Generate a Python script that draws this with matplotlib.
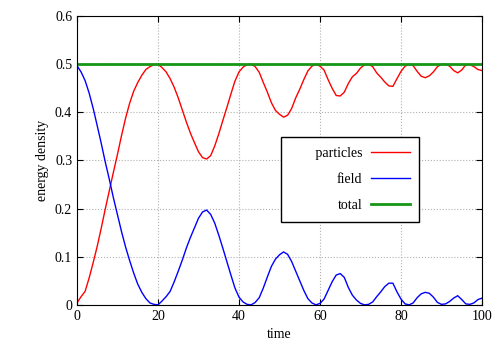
import matplotlib
matplotlib.use("Agg")
import matplotlib.pyplot as plt

plt.rcParams["font.family"] = ["Liberation Serif", "DejaVu Serif"]

time = list(range(0, 101))
field = [0.497, 0.484, 0.466, 0.440, 0.408, 0.372, 0.335, 0.296, 0.260, 0.222,
         0.187, 0.152, 0.120, 0.092, 0.066, 0.043, 0.026, 0.013, 0.004, 0.001,
         0.000, 0.008, 0.017, 0.028, 0.048, 0.070, 0.093, 0.118, 0.140, 0.160,
         0.180, 0.193, 0.197, 0.188, 0.170, 0.145, 0.118, 0.090, 0.062, 0.035,
         0.016, 0.006, 0.001, 0.000, 0.005, 0.015, 0.035, 0.058, 0.080, 0.095,
         0.104, 0.110, 0.105, 0.090, 0.070, 0.050, 0.030, 0.013, 0.004, 0.000,
         0.003, 0.012, 0.030, 0.048, 0.062, 0.065, 0.057, 0.036, 0.020, 0.010,
         0.003, 0.000, 0.001, 0.006, 0.017, 0.027, 0.038, 0.045, 0.045, 0.027,
         0.012, 0.002, 0.000, 0.004, 0.015, 0.023, 0.026, 0.024, 0.016, 0.005,
         0.001, 0.002, 0.007, 0.014, 0.019, 0.011, 0.002, 0.001, 0.004, 0.011,
         0.014]
particles = [0.004, 0.017, 0.028, 0.056, 0.088, 0.122, 0.160, 0.200, 0.238, 0.276,
             0.313, 0.352, 0.388, 0.419, 0.444, 0.462, 0.477, 0.489, 0.495, 0.499,
             0.500, 0.493, 0.484, 0.470, 0.452, 0.430, 0.405, 0.380, 0.357, 0.337,
             0.318, 0.306, 0.303, 0.310, 0.330, 0.355, 0.383, 0.410, 0.438, 0.465,
             0.484, 0.494, 0.499, 0.500, 0.495, 0.483, 0.462, 0.442, 0.420, 0.404,
             0.396, 0.390, 0.394, 0.408, 0.430, 0.448, 0.468, 0.486, 0.496, 0.500,
             0.496, 0.488, 0.468, 0.450, 0.435, 0.434, 0.442, 0.460, 0.474, 0.481,
             0.492, 0.499, 0.500, 0.495, 0.482, 0.473, 0.463, 0.455, 0.454, 0.470,
             0.485, 0.496, 0.500, 0.497, 0.485, 0.475, 0.472, 0.476, 0.484, 0.495,
             0.500, 0.500, 0.496, 0.487, 0.482, 0.488, 0.499, 0.499, 0.495, 0.489,
             0.487]
total_time = [0, 100]
total = [0.5, 0.5]

fig = plt.figure(figsize=(5, 3.5), dpi=100)
ax = fig.add_axes([0.154, 0.129, 0.81, 0.825])

ax.plot(time, particles, color="#ff0000", lw=1, label="       particles")
ax.plot(time, field, color="#0000ff", lw=1, label="field")
ax.plot(total_time, total, color="#169616", lw=2, label="total")

ax.set_xlim(0, 100)
ax.set_ylim(0, 0.6)
ax.set_xticks([0, 20, 40, 60, 80, 100])
ax.set_yticks([0, 0.1, 0.2, 0.3, 0.4, 0.5, 0.6])
ax.set_yticklabels(["0", "0.1", "0.2", "0.3", "0.4", "0.5", "0.6"])
ax.tick_params(direction="in", top=True, right=True, length=4, labelsize=10)
ax.grid(True, color="#b0b0b0", linestyle=":", linewidth=0.8)
ax.set_xlabel("time", fontsize=10)
ax.set_ylabel("energy density", fontsize=10)

leg = ax.legend(loc="upper left", bbox_to_anchor=(0.504, 0.581), borderaxespad=0,
                markerfirst=False, fancybox=False, edgecolor="black", framealpha=1,
                fontsize=10, handlelength=2.8, handletextpad=0.6,
                labelspacing=0.95, borderpad=0.7)
leg.get_frame().set_linewidth(1)
for t in leg.get_texts():
    t.set_ha("right")

fig.savefig("out.png", dpi=100)
